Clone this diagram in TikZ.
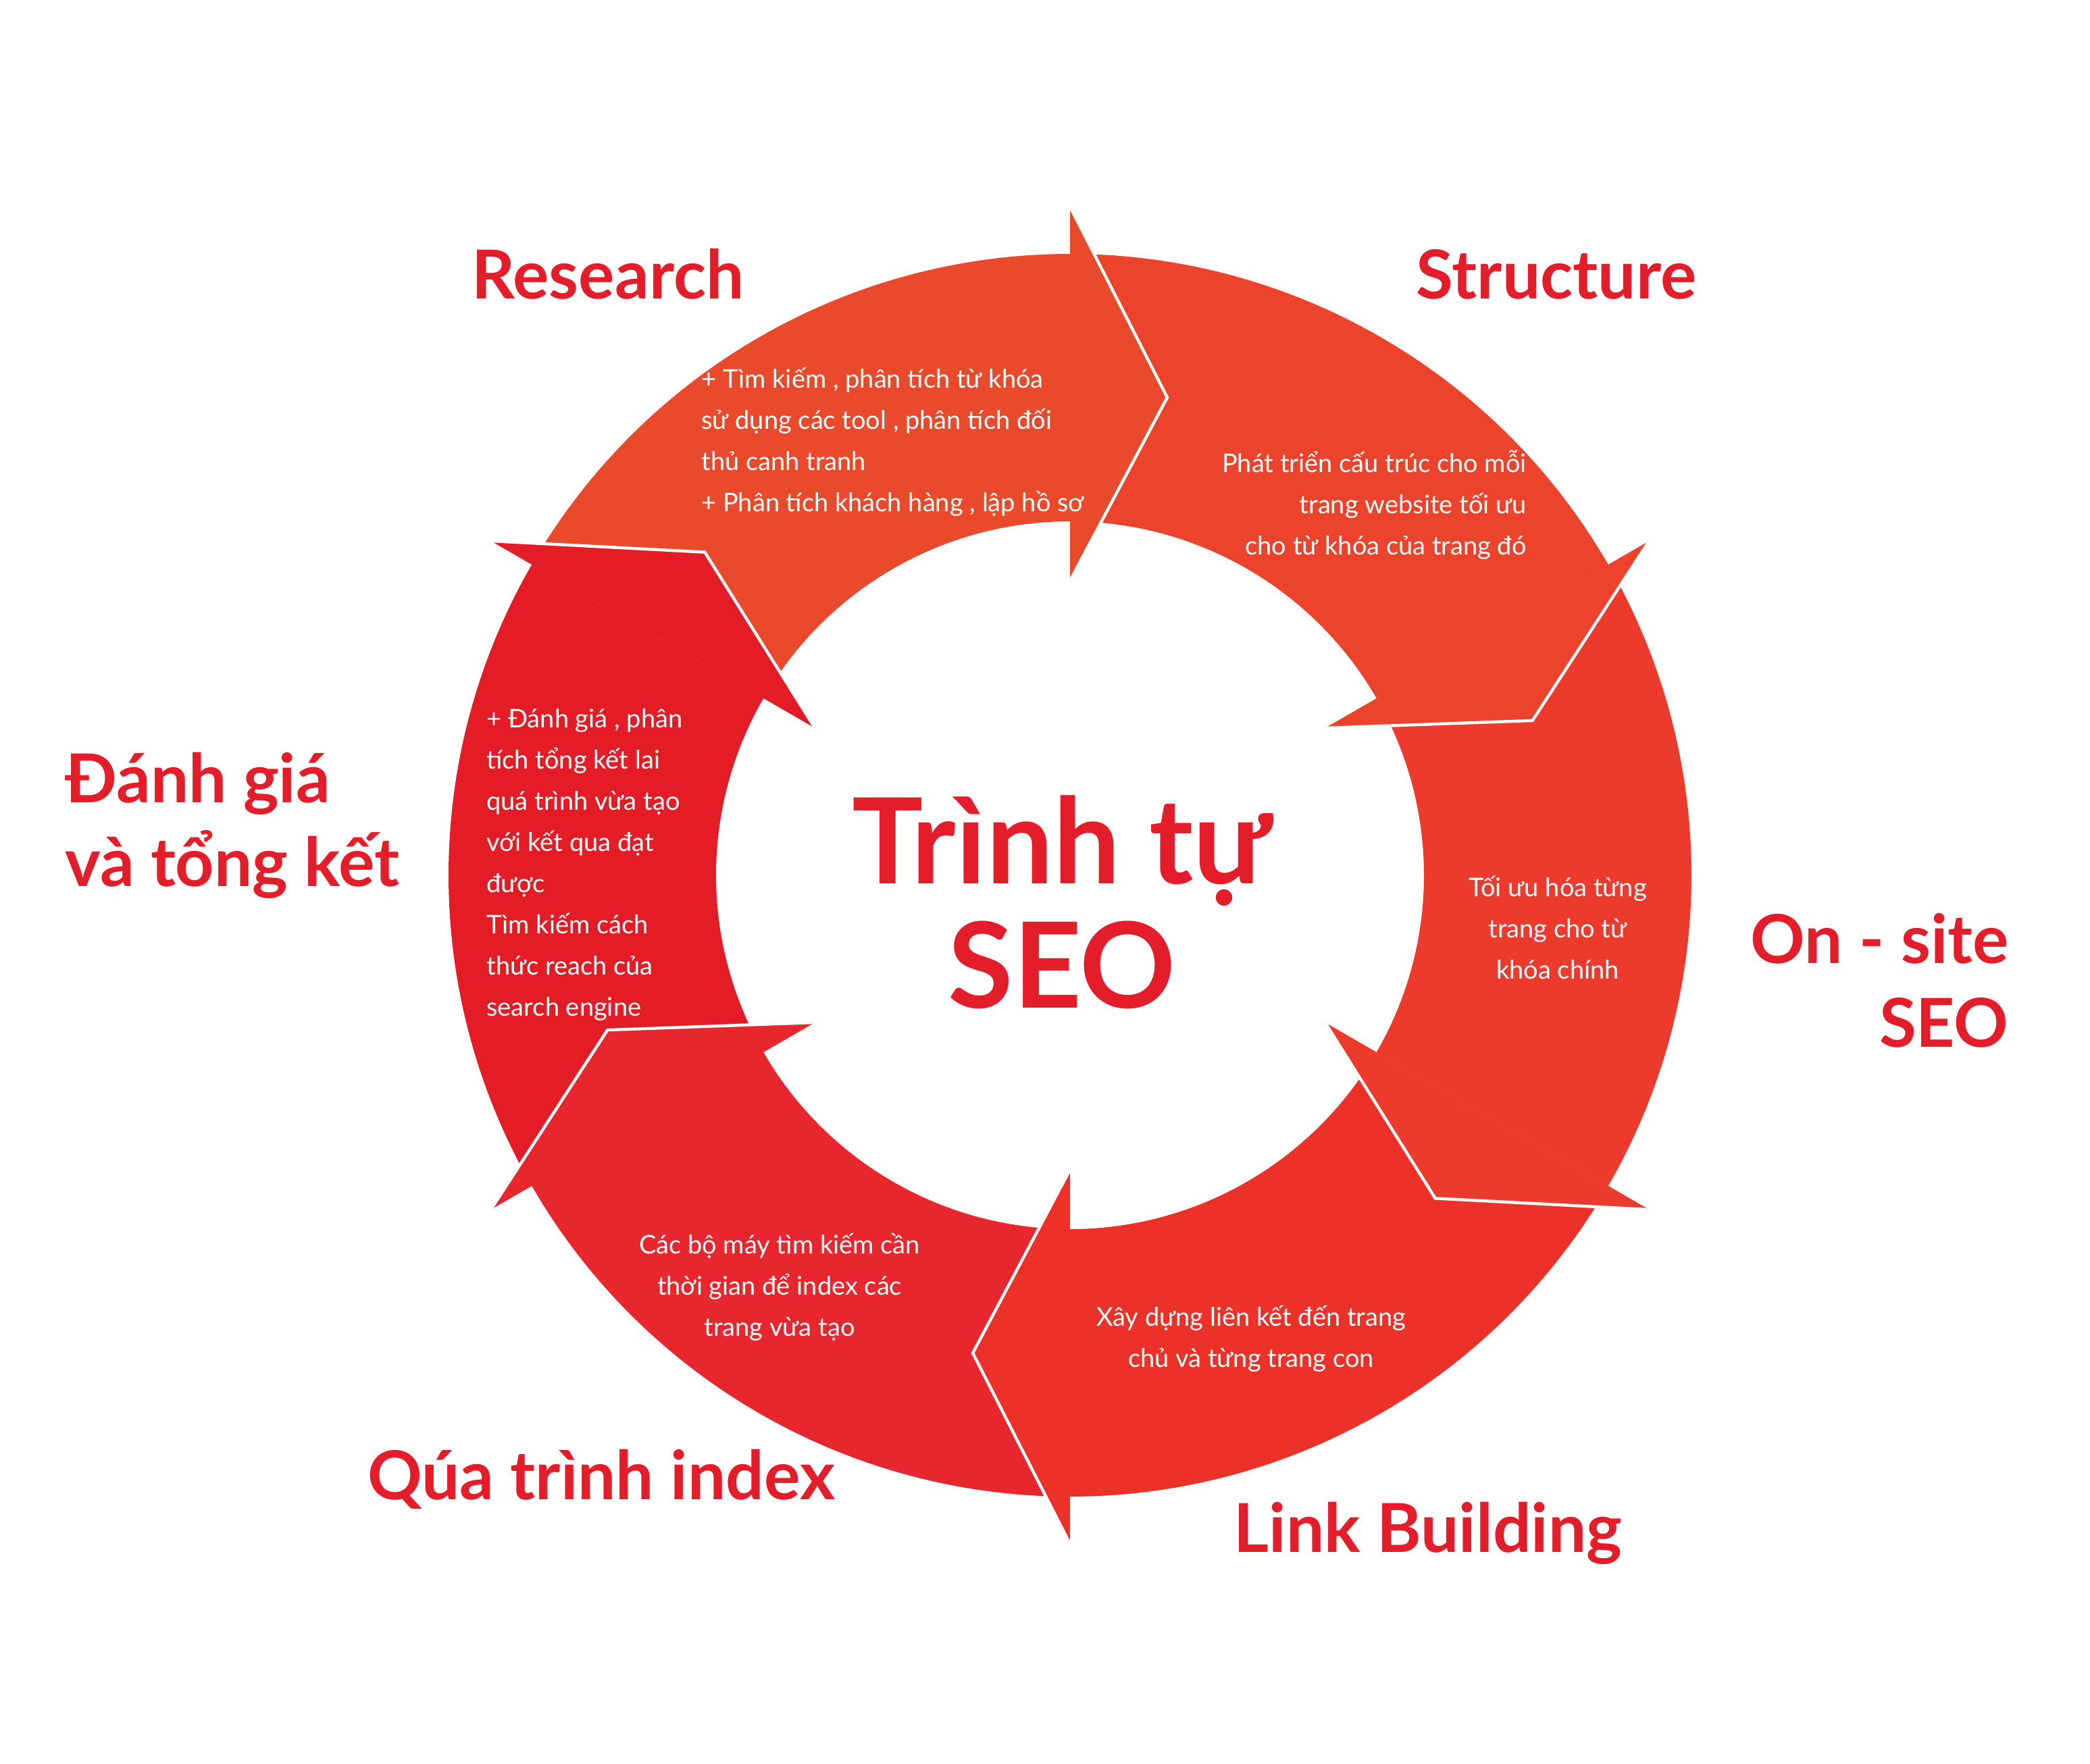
\documentclass[tikz,border=0pt]{standalone}
\usepackage{fontspec}
\setmainfont{Lato}
\definecolor{cA}{HTML}{E94A2B}
\definecolor{cB}{HTML}{EC432D}
\definecolor{cC}{HTML}{EC3A2D}
\definecolor{cD}{HTML}{EC3129}
\definecolor{cE}{HTML}{E8262E}
\definecolor{cF}{HTML}{E41C26}
\definecolor{tred}{HTML}{E31E2A}
\begin{document}
\begin{tikzpicture}[x=1pt,y=-1pt,
  ttl/.style={text=tred,font=\fontsize{50}{60}\selectfont\bfseries,inner sep=0},
  body/.style={text=white,font=\fontsize{19}{30.5}\selectfont,inner sep=0},
  edge/.style={draw=white,line width=2.2pt,line join=miter}]
\useasboundingbox (0,0) rectangle (1547,1306);
\begin{scope}[shift={(792,648)},y=1pt]
 \foreach \a/\b/\c in {150/90/cA,90/30/cB,30/-30/cC,-30/-90/cD,-90/-150/cE,-150/-210/cF}{
   \fill[\c] (\a:460) arc[start angle=\a,end angle=\b,radius=460] -- (\b:262) arc[start angle=\b,end angle=\a,radius=262] -- cycle;
 }
 \foreach \b/\c in {90/cA,30/cB,-30/cC,-90/cD,-150/cE,150/cF}{
   \pgfmathsetmacro\t{\b-11.5}
   \fill[\c] (\b:495) -- (\t:361) -- (\b:218) -- cycle;
   \draw[edge] (\b:495) -- (\t:361) -- (\b:218);
 }
\end{scope}
\node[ttl] (research) at (450,203) {Research};
\node[ttl] (structure) at (1152,203) {Structure};
\node[ttl,anchor=west,align=left,font=\fontsize{50}{62}\selectfont\bfseries] (danh) at (48,611) {Đánh giá\\và tổng kết};
\node[ttl,anchor=east,align=right,font=\fontsize{50}{62}\selectfont\bfseries] (onsite) at (1487,726) {On - site\\SEO};
\node[ttl] (qua) at (445,1095) {Qúa trình index};
\node[ttl] (link) at (1057,1135) {Link Building};
\node[ttl,align=center,font=\fontsize{88}{92}\selectfont\bfseries] (center) at (786,668) {Trình tự\\SEO};
\node[body,anchor=west,align=left] (tA) at (519,327) {+ Tìm kiếm , phân tích từ khóa\\sử dụng các tool , phân tích đối\\thủ canh tranh\\+ Phân tích khách hàng , lập hồ sơ};
\node[body,anchor=east,align=right] (tB) at (1130,374) {Phát triển cấu trúc cho mỗi\\trang website tối ưu\\cho từ khóa của trang đó};
\node[body,align=center] (tC) at (1153,687) {Tối ưu hóa từng\\trang cho từ\\khóa chính};
\node[body,align=center] (tD) at (926,991) {Xây dựng liên kết đến trang\\chủ và từng trang con};
\node[body,align=center] (tE) at (577,953) {Các bộ máy tìm kiếm cần\\thời gian để index các\\trang vừa tạo};
\node[body,anchor=west,align=left] (tF) at (360,640) {+ Đánh giá , phân\\tích tổng kết lai\\quá trình vừa tạo\\với kết qua đạt\\được\\Tìm kiếm cách\\thức reach của\\search engine};
\end{tikzpicture}
\end{document}
